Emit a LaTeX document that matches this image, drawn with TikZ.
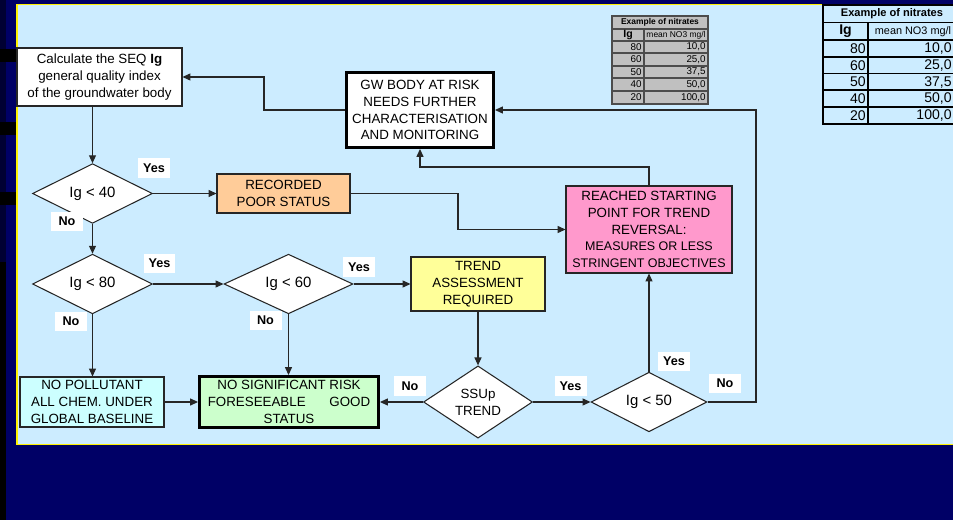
\documentclass[tikz,border=0pt]{standalone}
\usepackage{fontspec}
\setmainfont{Liberation Sans}
\usetikzlibrary{shapes.geometric,arrows.meta}
\definecolor{navy}{HTML}{000066}
\definecolor{stripc}{HTML}{000033}
\definecolor{panelc}{HTML}{CCECFF}
\definecolor{recc}{HTML}{FFCC99}
\definecolor{pinkc}{HTML}{FF99CC}
\definecolor{trendc}{HTML}{FFFF99}
\definecolor{nopolc}{HTML}{CCFFFF}
\definecolor{nosigc}{HTML}{CCFFCC}
\definecolor{greyc}{HTML}{C0C0C0}
\begin{document}
\begin{tikzpicture}[x=0.02cm,y=-0.02cm,
  nbox/.style={draw=black!85, line width=0.6pt, align=center, inner sep=0pt,
    font=\fontsize{7.6}{9.6}\selectfont},
  tbox/.style={nbox, draw=black, line width=1.7pt},
  dec/.style={diamond, draw=black!85, fill=white, line width=0.6pt, inner sep=0pt,
    font=\fontsize{8.5}{10}\selectfont, align=center},
  lab/.style={fill=white, inner sep=0pt, minimum width=0.64cm, minimum height=0.4cm,
    font=\bfseries\fontsize{7.2}{8}\selectfont},
  conn/.style={draw=black!85, line width=0.6pt},
  arr/.style={conn, -{Triangle[length=4.5pt,width=4pt]}},
  bigt/.style={inner sep=0pt, font=\fontsize{8}{9}\selectfont},
  smt/.style={inner sep=0pt, font=\fontsize{5.6}{6.5}\selectfont},
]
\useasboundingbox (0,0) rectangle (953,520);
% background
\fill[navy] (0,0) rectangle (953,520);
\fill[stripc] (0,0) rectangle (6,262);
\fill[black] (0,262) rectangle (6,520);
\fill[black] (0,49) rectangle (17,62);
\fill[black] (0,122) rectangle (17,135);
\fill[black] (0,192) rectangle (17,205);
\draw[yellow, line width=0.6pt, fill=panelc] (17,4.5) rectangle (975,444.5);

% small table
\draw[draw=black!70, fill=greyc, line width=0.6pt] (612,16) rectangle (708,104);
\foreach \yy in {29,41,53,66,78,91} \draw[black!70, line width=0.6pt] (612,\yy) -- (708,\yy);
\draw[black!70, line width=0.6pt] (644,29) -- (644,104);
\node[smt, font=\bfseries\fontsize{4.8}{5.5}\selectfont] (st0) at (660,22.5) {Example of nitrates};
\node[smt, font=\bfseries\fontsize{6}{7}\selectfont] (st1) at (628,35) {Ig};
\node[smt, font=\fontsize{4.8}{5.5}\selectfont] (st2) at (676,35) {mean NO3 mg/l};
\node[smt, anchor=east] (sa1) at (642,47) {80};
\node[smt, anchor=east] (sb1) at (706,47) {10,0};
\node[smt, anchor=east] (sa2) at (642,59.5) {60};
\node[smt, anchor=east] (sb2) at (706,59.5) {25,0};
\node[smt, anchor=east] (sa3) at (642,72) {50};
\node[smt, anchor=east] (sb3) at (706,72) {37,5};
\node[smt, anchor=east] (sa4) at (642,84.5) {40};
\node[smt, anchor=east] (sb4) at (706,84.5) {50,0};
\node[smt, anchor=east] (sa5) at (642,97.5) {20};
\node[smt, anchor=east] (sb5) at (706,97.5) {100,0};

% large table
\draw[black, line width=1.1pt] (823,5) rectangle (961,124);
\foreach \yy in {22.5,40,57,73.5,90,107} \draw[black, line width=1.1pt] (823,\yy) -- (961,\yy);
\draw[black, line width=0.9pt] (868,22.5) -- (868,124);
\node[bigt, font=\bfseries\fontsize{6.3}{7}\selectfont] (bt0) at (892,14) {Example of nitrates};
\node[bigt, font=\bfseries\fontsize{8}{9}\selectfont] (bt1) at (845.5,31.5) {Ig};
\node[bigt, font=\fontsize{6.2}{7}\selectfont] (bt2) at (913,31.5) {mean NO3 mg/l};
\node[bigt, anchor=east] (ba1) at (866,48.5) {80};
\node[bigt, anchor=east] (bb1) at (952,48.5) {10,0};
\node[bigt, anchor=east] (ba2) at (866,65.5) {60};
\node[bigt, anchor=east] (bb2) at (952,65.5) {25,0};
\node[bigt, anchor=east] (ba3) at (866,82) {50};
\node[bigt, anchor=east] (bb3) at (952,82) {37,5};
\node[bigt, anchor=east] (ba4) at (866,98.5) {40};
\node[bigt, anchor=east] (bb4) at (952,98.5) {50,0};
\node[bigt, anchor=east] (ba5) at (866,115.5) {20};
\node[bigt, anchor=east] (bb5) at (952,115.5) {100,0};

% flow nodes
\node[nbox, fill=white, minimum width=3.3cm, minimum height=1.16cm] (calc) at (99.5,77)
  {Calculate the SEQ \textbf{Ig}\\general quality index\\of the groundwater body};
\node[tbox, fill=white, minimum width=2.94cm, minimum height=1.5cm] (gw) at (420,110)
  {GW BODY AT RISK\\NEEDS FURTHER\\CHARACTERISATION\\AND MONITORING};
\node[dec, minimum width=2.4cm, minimum height=0.76cm] (d40) at (92.5,193.5) {Ig < 40};
\node[nbox, fill=recc, minimum width=2.66cm, minimum height=0.78cm] (rec) at (283.5,193.5)
  {RECORDED\\POOR STATUS};
\node[nbox, fill=pinkc, minimum width=3.32cm, minimum height=1.74cm] (pink) at (649,229.5)
  {REACHED STARTING\\POINT FOR TREND\\REVERSAL:\\\fontsize{7.1}{8.6}\selectfont MEASURES OR LESS\\\fontsize{7.1}{8.6}\selectfont STRINGENT OBJECTIVES};
\node[dec, minimum width=2.4cm, minimum height=0.76cm] (d80) at (92.5,284) {Ig < 80};
\node[dec, minimum width=2.58cm, minimum height=0.76cm] (d60) at (288.5,284) {Ig < 60};
\node[nbox, fill=trendc, minimum width=2.68cm, minimum height=1.08cm] (trend) at (478,284)
  {TREND\\ASSESSMENT\\REQUIRED};
\node[nbox, fill=nopolc, minimum width=2.88cm, minimum height=1.0cm] (nopol) at (92,402)
  {NO POLLUTANT\\ALL CHEM. UNDER\\GLOBAL BASELINE};
\node[tbox, fill=nosigc, minimum width=3.58cm, minimum height=1.02cm] (nosig) at (289,402)
  {NO SIGNIFICANT RISK\\FORESEEABLE\hspace{13.5pt}GOOD\\STATUS};
\node[dec, font=\fontsize{7.6}{9.6}\selectfont, minimum width=2.18cm, minimum height=1.24cm] (ssup) at (478,402)
  {SSUp\\TREND};
\node[dec, minimum width=2.32cm, minimum height=0.78cm] (d50) at (649,402) {Ig < 50};

% helper coordinates
\coordinate (c1) at (458,229.5);
\coordinate (c2) at (756,110);
\coordinate (c3) at (0,167);
\coordinate (c4) at (264,110);

% connectors
\draw[arr] (calc.south -| d40.north) -- (d40.north);
\draw[arr] (d40.east) -- (rec.west);
\draw[arr] (rec.east) -| (c1) -- (pink.west);
\draw[arr] (d40.south) -- (d80.north);
\draw[arr] (d80.east) -- (d60.west);
\draw[arr] (d80.south) -- (nopol.north -| d80.south);
\draw[arr] (d60.east) -- (trend.west);
\draw[arr] (d60.south) -- (nosig.north -| d60.south);
\draw[arr] (nopol.east) -- (nosig.west);
\draw[arr] (trend.south) -- (ssup.north);
\draw[arr] (ssup.west) -- (nosig.east);
\draw[arr] (ssup.east) -- (d50.west);
\draw[arr] (d50.north) -- (pink.south);
\draw[arr] (d50.east) -| (c2) -- (gw.east);
\draw[arr] (pink.north) |- (gw.south |- c3) -- (gw.south);
\draw[arr] (gw.west) -- (c4) |- (calc.east);

% labels
\node[lab] (l1) at (154,168) {Yes};
\node[lab] (l2) at (67,221.5) {No};
\node[lab] (l3) at (159.5,263.5) {Yes};
\node[lab] (l4) at (71,321.5) {No};
\node[lab] (l5) at (265.5,320.5) {No};
\node[lab] (l6) at (359,267) {Yes};
\node[lab] (l7) at (410,386) {No};
\node[lab] (l8) at (570.5,386) {Yes};
\node[lab] (l9) at (674,361.5) {Yes};
\node[lab] (l10) at (725,383.5) {No};
\end{tikzpicture}
\end{document}
